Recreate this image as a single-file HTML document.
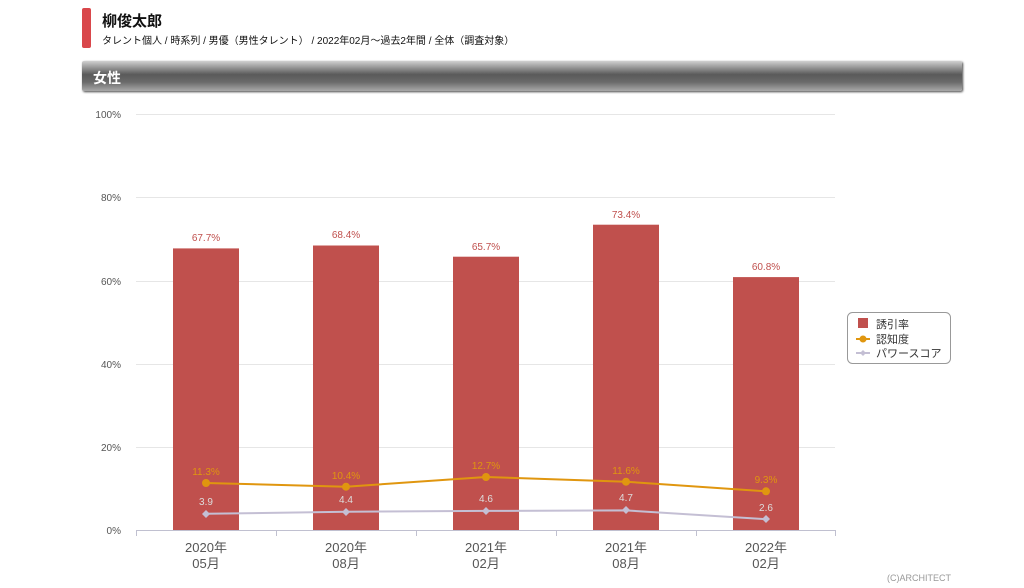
<!DOCTYPE html>
<html><head><meta charset="utf-8"><style>
body{margin:0;width:1024px;height:588px;background:#fff;overflow:hidden;font-family:"Liberation Sans","Noto Sans CJK JP",sans-serif;position:relative}
.bar{position:absolute;left:82px;top:8px;width:9px;height:40px;background:#d9474b;border-radius:2px}
.t1{position:absolute;left:102px;top:10px;font-size:15px;font-weight:bold;color:#111}
.t2{position:absolute;left:102px;top:32px;font-size:10px;color:#111}
.hd{position:absolute;left:82px;top:61px;width:880px;height:30px;background:linear-gradient(#d0d0d0,#5a5a5a 45%,#6a6a6a 70%,#a8a8a8);border-radius:2px;box-shadow:1px 1px 2px #444}
.hd span{position:absolute;left:11px;top:7px;color:#fff;font-size:14px;font-weight:bold}
</style></head><body>
<div class="bar"></div><div class="t1">柳俊太郎</div>
<div class="t2">タレント個人 / 時系列 / 男優（男性タレント） / 2022年02月〜過去2年間 / 全体（調査対象）</div>
<div class="hd"><span>女性</span></div>
<svg width="1024" height="588" style="position:absolute;left:0;top:0" font-family="Liberation Sans, Noto Sans CJK JP, sans-serif">
<g stroke="#e6e6e6" stroke-width="1">
<line x1="136" x2="835" y1="114.5" y2="114.5"/><line x1="136" x2="835" y1="197.5" y2="197.5"/><line x1="136" x2="835" y1="281.5" y2="281.5"/><line x1="136" x2="835" y1="364.5" y2="364.5"/><line x1="136" x2="835" y1="447.5" y2="447.5"/>
</g>
<line x1="136" x2="835" y1="530.5" y2="530.5" stroke="#c0c0d0"/>
<g stroke="#c0c0d0"><line x1="136.5" x2="136.5" y1="530" y2="536"/><line x1="276.5" x2="276.5" y1="530" y2="536"/><line x1="416.5" x2="416.5" y1="530" y2="536"/><line x1="556.5" x2="556.5" y1="530" y2="536"/><line x1="696.5" x2="696.5" y1="530" y2="536"/><line x1="835.5" x2="835.5" y1="530" y2="536"/></g>
<g font-size="10" fill="#555" text-anchor="end">
<text x="121" y="118">100%</text><text x="121" y="201">80%</text><text x="121" y="285">60%</text><text x="121" y="368">40%</text><text x="121" y="451">20%</text><text x="121" y="534">0%</text></g>
<g fill="#c0504d">
<rect x="173" y="248.4" width="66" height="281.6"/><rect x="313" y="245.5" width="66" height="284.5"/><rect x="453" y="256.7" width="66" height="273.3"/><rect x="593" y="224.7" width="66" height="305.3"/><rect x="733" y="277.1" width="66" height="252.9"/></g>
<g font-size="10" fill="#c0504d" text-anchor="middle">
<text x="206" y="241">67.7%</text><text x="346" y="238">68.4%</text><text x="486" y="250">65.7%</text><text x="626" y="218">73.4%</text><text x="766" y="270">60.8%</text></g>
<polyline points="206,483 346,486.7 486,477 626,481.7 766,491.3" fill="none" stroke="#e0960f" stroke-width="2"/>
<g fill="#e0960f"><circle cx="206" cy="483" r="4"/><circle cx="346" cy="486.7" r="4"/><circle cx="486" cy="477" r="4"/><circle cx="626" cy="481.7" r="4"/><circle cx="766" cy="491.3" r="4"/></g>
<g font-size="10" fill="#e0960f" text-anchor="middle">
<text x="206" y="475">11.3%</text><text x="346" y="479">10.4%</text><text x="486" y="469">12.7%</text><text x="626" y="474">11.6%</text><text x="766" y="483">9.3%</text></g>
<polyline points="206,513.8 346,511.7 486,510.9 626,510.4 766,519.2" fill="none" stroke="#c4bfd4" stroke-width="2"/>
<g fill="#c4bfd4"><path d="M206 510l4 4-4 4-4-4z"/><path d="M346 508l4 4-4 4-4-4z"/><path d="M486 507l4 4-4 4-4-4z"/><path d="M626 506l4 4-4 4-4-4z"/><path d="M766 515l4 4-4 4-4-4z"/></g>
<g font-size="10" fill="#fff" text-anchor="middle" stroke="#fff" stroke-width="0">
<text x="206" y="505" fill="#ddd">3.9</text><text x="346" y="503" fill="#ddd">4.4</text><text x="486" y="502" fill="#ddd">4.6</text><text x="626" y="501" fill="#ddd">4.7</text><text x="766" y="511" fill="#ddd">2.6</text></g>
<g font-size="13" fill="#555" text-anchor="middle">
<text x="206" y="552">2020年</text><text x="206" y="568">05月</text>
<text x="346" y="552">2020年</text><text x="346" y="568">08月</text>
<text x="486" y="552">2021年</text><text x="486" y="568">02月</text>
<text x="626" y="552">2021年</text><text x="626" y="568">08月</text>
<text x="766" y="552">2022年</text><text x="766" y="568">02月</text></g>
<rect x="847.5" y="312.5" width="103" height="51" rx="5" fill="#fff" stroke="#999"/>
<rect x="858" y="318" width="10" height="10" fill="#c0504d"/>
<line x1="856" x2="870" y1="339" y2="339" stroke="#e0960f" stroke-width="2"/><circle cx="863" cy="339" r="3.5" fill="#e0960f"/>
<line x1="856" x2="870" y1="353" y2="353" stroke="#c4bfd4" stroke-width="2"/><path d="M863 350l3 3-3 3-3-3z" fill="#c4bfd4"/>
<g font-size="11" fill="#333"><text x="876" y="328">誘引率</text><text x="876" y="343">認知度</text><text x="876" y="357">パワースコア</text></g>
<text x="951" y="581" font-size="9" fill="#999" text-anchor="end">(C)ARCHITECT</text>
</svg>
</body></html>
